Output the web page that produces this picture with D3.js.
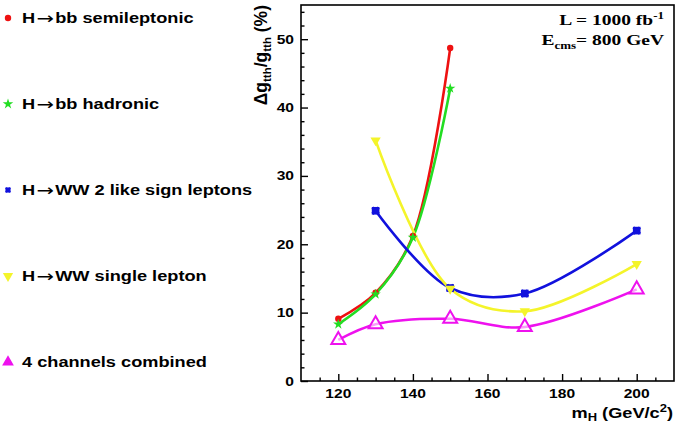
<!DOCTYPE html>
<html>
<head>
<meta charset="utf-8">
<script src="https://cdn.jsdelivr.net/npm/d3@7"></script>
<style>
  body { margin: 0; background: #fff; }
  svg { display: block; }
  text { font-family: "Liberation Sans", Arial, Helvetica, sans-serif; font-weight: bold; fill: #000; }
  .serif { font-family: "Liberation Serif", "Times New Roman", serif; }
  .arrow { font-family: "DejaVu Sans", sans-serif; font-weight: normal; }
</style>
</head>
<body>
<svg id="chart" width="680" height="428"></svg>
<script>
// data
const semilepMass = [120, 130, 140, 150];
const semilepVals = [9.1, 12.9, 21.2, 48.7];
const hadronicMass = [120, 130, 140, 150];
const hadronicVals = [8.3, 12.7, 21.0, 42.8];
const wwLikeMass = [130, 150, 170, 200];
const wwLikeVals = [24.9, 13.6, 12.8, 22.0];
const wwSingleMass = [130, 150, 170, 200];
const wwSingleVals = [35.2, 13.5, 10.2, 17.1];
const combinedMass = [120, 130, 150, 170, 200];
const combinedVals = [6.0, 8.3, 9.1, 7.9, 13.4];
const yTicks = [0, 10, 20, 30, 40, 50];
const xTicks = [120, 140, 160, 180, 200];
// [before arrow, after arrow]
const legendLabels = [["H", "bb semileptonic"], ["H", "bb hadronic"], ["H", "WW 2 like sign leptons"], ["H", "WW single lepton"], ["", "4 channels combined"]];

const SX = 1.3; // the picture is stretched sideways, so is the text

const svg = d3.select("#chart");
const margin = {top: 5, left: 301, right: 6, bottom: 47};
const W = 680, H = 428;

const x = d3.scaleLinear().domain([110, 210]).range([margin.left, W - margin.right]);
const y = d3.scaleLinear().domain([0, 55]).range([H - margin.bottom, margin.top]);

const series = [
  {mass: semilepMass, vals: semilepVals, color: "#ee1111", marker: "circle"},
  {mass: hadronicMass, vals: hadronicVals, color: "#22dd22", marker: "star"},
  {mass: wwLikeMass, vals: wwLikeVals, color: "#1111dd", marker: "boxcross"},
  {mass: wwSingleMass, vals: wwSingleVals, color: "#f4f42a", marker: "tridown"},
  {mass: combinedMass, vals: combinedVals, color: "#ee11ee", marker: "triopen"}
];

const stext = function(g, tx, ty, str, size, anchor) {
  return g.append("text")
    .attr("transform", "translate(" + tx + "," + ty + ") scale(" + SX + ",1)")
    .attr("font-size", size)
    .attr("text-anchor", anchor || "start")
    .text(str);
}

const drawMarker = function(g, kind, color, cx, cy, k) {
  k = k || 1;
  const t = "translate(" + cx + "," + cy + ")";
  if (kind === "circle") {
    g.append("circle").attr("cx", cx).attr("cy", cy).attr("r", 3.2).attr("fill", color);
  } else if (kind === "star") {
    g.append("path").attr("d", d3.symbol(d3.symbolStar, 34)()).attr("transform", t).attr("fill", color);
  } else if (kind === "boxcross") {
    g.append("path").attr("d", d3.symbol(d3.symbolSquare, 58 * k)()).attr("transform", t).attr("fill", color);
    g.append("path").attr("d", d3.symbol(d3.symbolCross, 44 * k)()).attr("transform", t + " rotate(45)").attr("fill", color);
  } else if (kind === "tridown") {
    g.append("path").attr("d", d3.symbol(d3.symbolTriangle, 46)()).attr("transform", t + " rotate(180)").attr("fill", color);
  } else if (kind === "triopen") {
    g.append("path").attr("d", d3.symbol(d3.symbolTriangle, 84)()).attr("transform", t)
      .attr("fill", "#fff").attr("fill-opacity", 0.6).attr("stroke", color).attr("stroke-width", 2);
  } else if (kind === "trifill") {
    g.append("path").attr("d", d3.symbol(d3.symbolTriangle, 60)()).attr("transform", t).attr("fill", color);
  }
}

// curves
const line = d3.line()
  .x((d) => x(d[0]))
  .y((d) => y(d[1]))
  .curve(d3.curveCatmullRom.alpha(0.5));

const plot = svg.append("g");
series.forEach((s) => {
  const pts = s.mass.map((m, i) => [m, s.vals[i]]);
  plot.append("path")
    .attr("d", line(pts))
    .attr("fill", "none")
    .attr("stroke", s.color)
    .attr("stroke-width", 2.6);
});
series.forEach((s) => {
  s.mass.forEach((m, i) => drawMarker(plot, s.marker, s.color, x(m), y(s.vals[i])));
});

// frame
svg.append("rect")
  .attr("x", x(110)).attr("y", y(55))
  .attr("width", x(210) - x(110)).attr("height", y(0) - y(55))
  .attr("fill", "none").attr("stroke", "#000").attr("stroke-width", 1.6);

// y axis ticks (inward)
const yAxis = d3.axisRight(y).tickValues(d3.range(0, 55.1, 2)).tickSize(0).tickFormat("");
const yAx = svg.append("g").attr("transform", "translate(" + x(110) + ",0)").call(yAxis);
yAx.select(".domain").remove();
yAx.selectAll(".tick line")
  .attr("x2", (d) => (d % 10 === 0 ? 7 : 3.5))
  .attr("stroke", "#000").attr("stroke-width", 1.4);
yTicks.forEach((v) => stext(svg, 294, y(v) + 4.5, String(v), 12, "end"));

// x axis ticks (inward)
const xAxis = d3.axisTop(x).tickValues(d3.range(115, 206, 5)).tickSize(0).tickFormat("");
const xAx = svg.append("g").attr("transform", "translate(0," + y(0) + ")").call(xAxis);
xAx.select(".domain").remove();
xAx.selectAll(".tick line")
  .attr("y2", (d) => (d % 20 === 0 ? -7 : -3.5))
  .attr("stroke", "#000").attr("stroke-width", 1.4);
xTicks.forEach((v) => stext(svg, x(v), 398, String(v), 12, "middle"));

// x title
const xt = svg.append("text")
  .attr("transform", "translate(673,418) scale(" + SX + ",1)")
  .attr("font-size", 14).attr("text-anchor", "end");
xt.append("tspan").text("m");
xt.append("tspan").attr("font-size", 10).attr("dy", 3).text("H");
xt.append("tspan").attr("dy", -3).text(" (GeV/c");
xt.append("tspan").attr("font-size", 10).attr("dy", -6).text("2");
xt.append("tspan").attr("dy", 6).text(")");

// y title
const yt = svg.append("text")
  .attr("transform", "translate(267,5) rotate(-90)")
  .attr("font-size", 17.5).attr("text-anchor", "end");
yt.append("tspan").text("\u0394g");
yt.append("tspan").attr("font-size", 11.5).attr("dy", 4).text("tth");
yt.append("tspan").attr("dy", -4).text("/g");
yt.append("tspan").attr("font-size", 11.5).attr("dy", 4).text("tth");
yt.append("tspan").attr("dy", -4).text(" (%)");

// beam info
const l1 = svg.append("text").attr("class", "serif")
  .attr("transform", "translate(664,25) scale(" + SX + ",1)")
  .attr("font-size", 15).attr("text-anchor", "end");
l1.append("tspan").text("L = 1000 fb");
l1.append("tspan").attr("font-size", 10).attr("dy", -6).text("-1");
const l2 = svg.append("text").attr("class", "serif")
  .attr("transform", "translate(664,45) scale(" + SX + ",1)")
  .attr("font-size", 15).attr("text-anchor", "end");
l2.append("tspan").text("E");
l2.append("tspan").attr("font-size", 10).attr("dy", 4).text("cms");
l2.append("tspan").attr("dy", -4).text("= 800 GeV");

// legend
const legendY = [18, 104, 190, 276, 362];
const legendMarker = ["circle", "star", "boxcross", "tridown", "trifill"];
const leg = svg.append("g");
series.forEach((s, i) => {
  drawMarker(leg, legendMarker[i], s.color, 8, legendY[i], 0.45);
  const lab = legendLabels[i];
  const t = leg.append("text")
    .attr("transform", "translate(22," + (legendY[i] + 5) + ") scale(" + SX + ",1)")
    .attr("font-size", 14);
  if (lab[0]) {
    t.append("tspan").text(lab[0]);
    t.append("tspan").attr("class", "arrow").attr("font-size", 16).attr("dx", 1).attr("dy", 0.5).text("\u2192");
    t.append("tspan").attr("dx", 1).attr("dy", -0.5).text(lab[1]);
  } else {
    t.append("tspan").text(lab[1]);
  }
});
</script>
</body>
</html>
